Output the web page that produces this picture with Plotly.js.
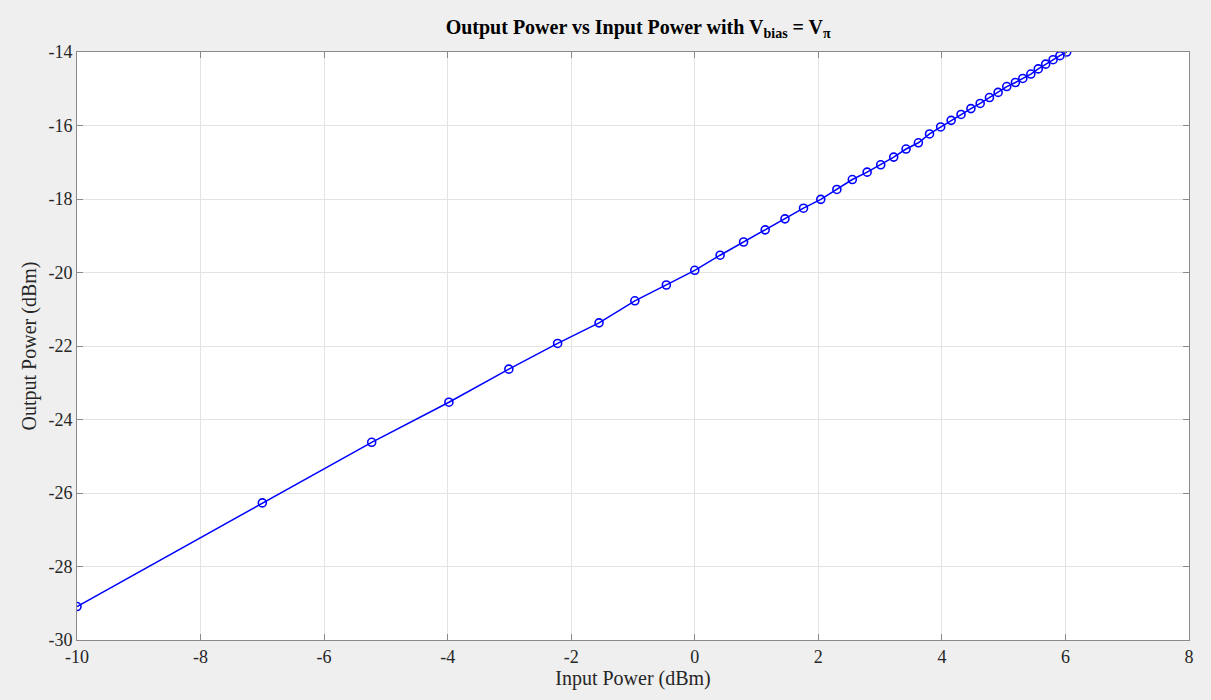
<!DOCTYPE html>
<html>
<head>
<meta charset="utf-8">
<script src="https://cdn.plot.ly/plotly-3.0.1.min.js"></script>
<style>
html,body{margin:0;padding:0;background:#efefef;}
#chart{width:1211px;height:700px;}
</style>
</head>
<body>
<div id="chart"></div>
<script>
const inputPower = [-10, -7, -5.23, -3.98, -3.01, -2.22, -1.55, -0.97, -0.46, 0,
  0.41, 0.79, 1.14, 1.46, 1.76, 2.04, 2.30, 2.55, 2.79, 3.01,
  3.22, 3.42, 3.62, 3.80, 3.98, 4.15, 4.31, 4.47, 4.62, 4.77,
  4.91, 5.05, 5.19, 5.31, 5.44, 5.56, 5.68, 5.80, 5.91, 6.02];
const outputPower = [-29.09, -26.27, -24.62, -23.53, -22.63, -21.93, -21.37, -20.77, -20.34, -19.94,
  -19.53, -19.17, -18.84, -18.54, -18.25, -18.01, -17.74, -17.47, -17.27, -17.07,
  -16.86, -16.64, -16.47, -16.23, -16.04, -15.86, -15.70, -15.54, -15.40, -15.24,
  -15.10, -14.94, -14.83, -14.72, -14.60, -14.46, -14.33, -14.21, -14.10, -14.00];
const xTicks = [-10, -8, -6, -4, -2, 0, 2, 4, 6, 8];
const yTicks = [-30, -28, -26, -24, -22, -20, -18, -16, -14];

const SERIF = 'Liberation Serif';

const axisCommon = {
  showline: true, linecolor: '#8a8a8a', linewidth: 1, mirror: 'ticks',
  ticks: 'inside', ticklen: 6, tickcolor: '#8a8a8a', tickwidth: 1,
  showgrid: true, gridcolor: '#e3e3e3', gridwidth: 1, zeroline: false,
  tickfont: {family: SERIF, size: 18, color: '#262626'},
  tickmode: 'array'
};

Plotly.newPlot('chart', [{
  x: inputPower, y: outputPower, type: 'scatter', mode: 'lines+markers',
  line: {color: '#0000ff', width: 1.5},
  marker: {symbol: 'circle-open', size: 8, color: '#0000ff', line: {width: 1.6, color: '#0000ff'}},
  showlegend: false, hoverinfo: 'x+y'
}], {
  width: 1211, height: 700,
  paper_bgcolor: '#efefef', plot_bgcolor: '#ffffff',
  font: {family: SERIF},
  margin: {l: 77, r: 22, t: 52, b: 60},
  title: {
    text: '<b>Output Power vs Input Power with V<sub>bias</sub> = V<sub>π</sub></b>',
    font: {family: SERIF, size: 20, color: '#000000'},
    x: 0.527, xanchor: 'center', y: 0.962, yanchor: 'middle'
  },
  xaxis: Object.assign({}, axisCommon, {
    range: [-10, 8], tickvals: xTicks, ticktext: xTicks.map(String),
    title: {text: 'Input Power (dBm)', standoff: 4,
      font: {family: SERIF, size: 20, color: '#262626'}}
  }),
  yaxis: Object.assign({}, axisCommon, {
    range: [-30, -14], tickvals: yTicks, ticktext: yTicks.map(String),
    title: {text: 'Output Power (dBm)', standoff: 6,
      font: {family: SERIF, size: 20, color: '#262626'}}
  })
}, {displayModeBar: false});
</script>
</body>
</html>
